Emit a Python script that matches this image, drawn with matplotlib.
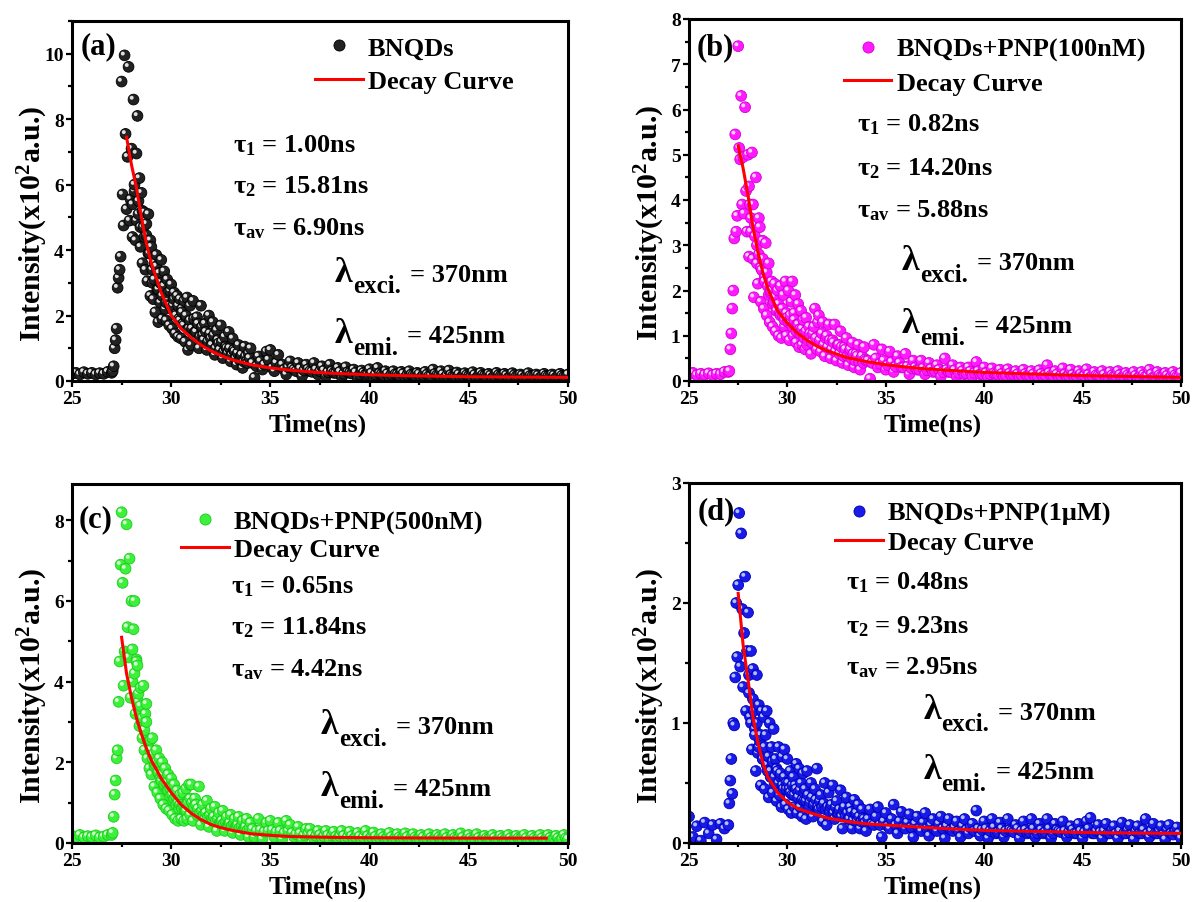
import numpy as np
import matplotlib
matplotlib.use('Agg')
import matplotlib.pyplot as plt
from matplotlib.lines import Line2D
from matplotlib.ticker import MultipleLocator

plt.rcParams['font.family'] = ['Liberation Serif', 'DejaVu Serif']
plt.rcParams['font.weight'] = 'bold'
plt.rcParams['axes.labelweight'] = 'bold'
plt.rcParams['mathtext.fontset'] = 'custom'
plt.rcParams['mathtext.rm'] = 'Liberation Serif:bold'
plt.rcParams['mathtext.bf'] = 'Liberation Serif:bold'
plt.rcParams['mathtext.it'] = 'Liberation Serif:bold:italic'
plt.rcParams['mathtext.default'] = 'rm'

# TCSPC channels (ns): coarse before the pulse, fine over the rise/peak, coarse in the tail
time_ns = np.concatenate([25.0 + 0.2 * np.arange(10),
                          27.0 + 0.05 * np.arange(80),
                          31.0 + 0.1 * np.arange(30),
                          34.0 + 0.2 * np.arange(81)])
# second pass of channels lying between the ones above (decay + tail)
fill_ns = np.concatenate([28.05 + 0.1 * np.arange(60),
                          34.1 + 0.2 * np.arange(80)])

# ---- (a) BNQDs, intensity in x10^2 a.u.
int_a_head = [0.22, 0.25, 0.2, 0.27, 0.22, 0.25, 0.2, 0.24, 0.22, 0.28]
int_a_peak = [0.25, 0.3, 0.45, 1.0, 1.25, 1.6, 2.85, 3.15, 3.4, 3.8,
              9.15, 5.7, 4.75, 9.95, 7.55, 5.25, 6.85, 9.6, 4.9, 5.55,
              7.1, 4.4, 8.6, 5.8, 4.3, 6.95, 8.1, 5.1, 6.2, 4.1,
              5.75, 3.6, 4.7, 5.15, 3.4, 4.45, 3.05, 5.1, 3.9, 2.6,
              4.1, 3.0, 2.5, 3.6, 2.1, 3.85, 2.8, 1.8, 3.3, 2.4,
              3.7, 1.9, 2.9, 3.35, 2.2, 1.85, 3.1, 2.5, 1.7, 2.75,
              2.95, 1.6, 2.3, 2.7, 1.45, 2.05, 2.6, 1.35, 1.9, 2.5,
              1.3, 2.2, 1.75, 2.45, 1.2, 1.95, 2.55, 0.95, 1.6, 2.3]
int_a_mid = [1.1, 2.45, 1.5, 1.95, 1.0, 2.3, 1.4, 1.75, 0.95, 2.0,
             1.3, 1.8, 0.8, 1.55, 1.15, 1.7, 0.7, 1.35, 1.0, 1.5,
             0.6, 1.3, 0.9, 0.5, 1.1, 0.75, 0.4, 1.05, 0.6, 0.85]
int_a_tail = [1.0, 0.1, 0.75, 0.35, 0.9, 0.95, 0.3, 0.8, 0.5, 0.2,
              0.6, 0.35, 0.55, 0.15, 0.5, 0.3, 0.55, 0.2, 0.45, 0.15,
              0.5, 0.25, 0.4, 0.12, 0.42, 0.25, 0.35, 0.1, 0.32, 0.2,
              0.36, 0.12, 0.4, 0.2, 0.3, 0.12, 0.3, 0.2, 0.28, 0.1,
              0.3, 0.18, 0.25, 0.1, 0.28, 0.15, 0.35, 0.18, 0.3, 0.1,
              0.32, 0.15, 0.26, 0.1, 0.24, 0.15, 0.27, 0.1, 0.25, 0.16,
              0.22, 0.1, 0.25, 0.15, 0.22, 0.1, 0.24, 0.14, 0.2, 0.1,
              0.24, 0.14, 0.2, 0.1, 0.22, 0.14, 0.2, 0.1, 0.22, 0.13,
              0.2]
fill_a = [5.4, 6.0, 4.9, 5.5, 4.7, 5.2, 4.4, 4.8, 3.9, 4.3,
          3.4, 3.1, 3.5, 2.8, 3.0, 2.6, 2.9, 2.4, 2.7, 2.3,
          2.2, 2.5, 2.0, 2.3, 1.85, 2.1, 1.7, 2.0, 1.6, 1.85,
          1.6, 1.9, 1.5, 1.75, 1.35, 1.65, 1.25, 1.5, 1.2, 1.45,
          1.1, 1.4, 1.0, 1.25, 0.95, 1.2, 0.9, 1.05, 0.85, 1.0,
          0.8, 0.95, 0.7, 0.85, 0.65, 0.8, 0.6, 0.75, 0.55, 0.7,
          0.55, 0.45, 0.6, 0.5, 0.65, 0.4, 0.55, 0.45, 0.35, 0.42,
          0.4, 0.3, 0.38, 0.32, 0.36, 0.28, 0.35, 0.3, 0.32, 0.27,
          0.3, 0.25, 0.28, 0.22, 0.27, 0.23, 0.26, 0.2, 0.25, 0.22,
          0.24, 0.2, 0.23, 0.18, 0.22, 0.2, 0.21, 0.17, 0.22, 0.19,
          0.2, 0.17, 0.21, 0.18, 0.2, 0.16, 0.22, 0.18, 0.2, 0.17,
          0.19, 0.16, 0.2, 0.17, 0.18, 0.15, 0.19, 0.17, 0.18, 0.15,
          0.17, 0.15, 0.18, 0.16, 0.17, 0.14, 0.18, 0.16, 0.17, 0.15,
          0.16, 0.14, 0.17, 0.15, 0.16, 0.14, 0.17, 0.15, 0.16, 0.14]
fit_t_a = [27.75, 28.0, 28.25, 28.5, 28.75, 29.0, 29.5, 30.0, 30.5, 31.0, 31.5, 32.0,
           32.5, 33.0, 34.0, 35.0, 36.0, 37.0, 38.0, 40.0, 42.0, 45.0, 50.0]
fit_a = [7.45, 6.6, 5.9, 5.0, 4.2, 3.6, 2.7, 2.0, 1.6, 1.33, 1.1, 0.92,
         0.78, 0.66, 0.5, 0.4, 0.33, 0.28, 0.24, 0.19, 0.16, 0.13, 0.11]

# ---- (b) BNQDs + PNP 100 nM
int_b_head = [0.15, 0.18, 0.13, 0.16, 0.14, 0.17, 0.13, 0.16, 0.15, 0.2]
int_b_peak = [0.2, 0.22, 0.7, 1.05, 1.6, 2.0, 3.15, 5.45, 3.3, 3.65,
              7.4, 5.15, 4.9, 6.3, 3.9, 4.95, 3.7, 6.05, 4.2, 3.3,
              5.0, 2.75, 3.9, 3.3, 5.05, 2.7, 1.85, 3.45, 4.5, 2.6,
              2.15, 3.6, 3.4, 1.75, 2.45, 3.1, 1.6, 2.3, 3.05, 1.45,
              2.1, 2.6, 1.3, 1.95, 2.2, 1.2, 1.75, 2.15, 1.1, 1.6,
              2.0, 1.0, 1.5, 2.1, 0.95, 1.45, 1.9, 1.2, 2.2, 1.0,
              1.4, 2.0, 0.9, 1.3, 1.75, 2.2, 1.0, 1.5, 1.9, 0.85,
              1.25, 1.7, 0.75, 1.15, 1.55, 0.8, 1.35, 1.05, 0.7, 1.4]
int_b_mid = [0.8, 1.2, 0.6, 1.05, 1.6, 0.7, 1.45, 0.65, 1.3, 0.55,
             1.0, 1.25, 0.5, 0.9, 1.25, 0.45, 0.8, 1.1, 0.4, 0.75,
             0.95, 0.35, 0.7, 0.85, 0.3, 0.6, 0.8, 0.25, 0.55, 0.75]
int_b_tail = [0.45, 0.05, 0.8, 0.3, 0.7, 0.25, 0.65, 0.2, 0.55, 0.3,
              0.6, 0.15, 0.45, 0.25, 0.45, 0.15, 0.4, 0.2, 0.35, 0.1,
              0.5, 0.2, 0.35, 0.1, 0.3, 0.15, 0.3, 0.1, 0.42, 0.15,
              0.3, 0.08, 0.28, 0.15, 0.25, 0.1, 0.26, 0.12, 0.22, 0.08,
              0.25, 0.12, 0.22, 0.08, 0.24, 0.1, 0.35, 0.12, 0.22, 0.08,
              0.28, 0.1, 0.25, 0.08, 0.22, 0.1, 0.26, 0.08, 0.2, 0.12,
              0.22, 0.06, 0.2, 0.1, 0.22, 0.08, 0.18, 0.1, 0.2, 0.06,
              0.2, 0.1, 0.25, 0.08, 0.2, 0.1, 0.18, 0.06, 0.2, 0.1,
              0.18]
fill_b = [4.3, 3.6, 3.9, 3.2, 3.0, 2.8, 2.5, 2.7, 2.2, 2.4,
          1.9, 2.0, 1.7, 1.85, 1.55, 1.7, 1.45, 1.6, 1.35, 1.5,
          1.3, 1.45, 1.2, 1.35, 1.1, 1.25, 1.05, 1.15, 0.95, 1.1,
          0.9, 1.05, 0.85, 1.2, 0.95, 1.3, 0.9, 1.05, 0.8, 0.95,
          0.75, 0.9, 0.7, 0.85, 0.65, 0.8, 0.6, 0.75, 0.55, 0.7,
          0.55, 0.65, 0.5, 0.6, 0.45, 0.55, 0.42, 0.5, 0.4, 0.48,
          0.45, 0.4, 0.5, 0.38, 0.45, 0.35, 0.42, 0.32, 0.4, 0.3,
          0.32, 0.28, 0.3, 0.25, 0.28, 0.24, 0.27, 0.22, 0.25, 0.2,
          0.25, 0.2, 0.24, 0.18, 0.22, 0.17, 0.21, 0.18, 0.22, 0.16,
          0.18, 0.15, 0.17, 0.14, 0.16, 0.13, 0.17, 0.14, 0.15, 0.13,
          0.16, 0.13, 0.15, 0.12, 0.16, 0.13, 0.18, 0.12, 0.15, 0.12,
          0.15, 0.12, 0.14, 0.11, 0.15, 0.12, 0.14, 0.11, 0.13, 0.11,
          0.14, 0.1, 0.13, 0.11, 0.14, 0.1, 0.13, 0.11, 0.12, 0.1,
          0.14, 0.11, 0.15, 0.1, 0.13, 0.11, 0.12, 0.1, 0.13, 0.1]
fit_t_b = [27.5, 27.75, 28.0, 28.25, 28.5, 28.75, 29.0, 29.5, 30.0, 30.5, 31.0, 31.5,
           32.0, 33.0, 34.0, 35.0, 36.0, 37.0, 38.0, 40.0, 42.0, 45.0, 50.0]
fit_b = [5.2, 4.7, 4.1, 3.4, 2.85, 2.4, 2.05, 1.55, 1.28, 1.06, 0.9, 0.77,
         0.67, 0.52, 0.43, 0.36, 0.31, 0.27, 0.24, 0.19, 0.16, 0.12, 0.08]

# ---- (c) BNQDs + PNP 500 nM
int_c_head = [0.18, 0.15, 0.2, 0.14, 0.17, 0.15, 0.19, 0.14, 0.16, 0.2]
int_c_peak = [0.2, 0.25, 0.65, 1.2, 1.55, 2.1, 2.3, 3.5, 4.5, 6.9,
              8.2, 6.45, 3.9, 4.75, 6.8, 7.9, 5.35, 4.6, 7.05, 3.6,
              6.0, 4.0, 5.3, 6.0, 3.2, 4.55, 4.4, 3.5, 2.9, 3.85,
              3.0, 2.6, 3.9, 2.3, 3.2, 3.45, 2.1, 2.5, 1.85, 2.55,
              1.7, 2.6, 2.2, 1.4, 1.95, 2.3, 1.25, 1.75, 2.1, 1.1,
              1.55, 2.0, 0.95, 1.4, 1.85, 0.85, 1.3, 1.7, 0.8, 1.15,
              1.6, 0.7, 1.05, 1.45, 0.6, 0.95, 1.3, 0.55, 0.85, 1.2,
              0.6, 0.9, 1.25, 0.55, 0.8, 1.35, 0.6, 1.05, 1.45, 0.7]
int_c_mid = [1.45, 0.55, 1.1, 0.7, 1.4, 0.45, 0.95, 0.6, 1.05, 0.4,
             0.85, 0.55, 0.9, 0.3, 0.75, 0.5, 0.8, 0.3, 0.65, 0.45,
             0.7, 0.25, 0.6, 0.4, 0.65, 0.2, 0.55, 0.35, 0.6, 0.15]
int_c_tail = [0.5, 0.15, 0.6, 0.1, 0.5, 0.55, 0.15, 0.5, 0.1, 0.55,
              0.45, 0.15, 0.4, 0.08, 0.35, 0.35, 0.1, 0.3, 0.12, 0.3,
              0.08, 0.28, 0.12, 0.3, 0.08, 0.28, 0.1, 0.25, 0.08, 0.3,
              0.1, 0.26, 0.08, 0.22, 0.1, 0.25, 0.08, 0.22, 0.1, 0.24,
              0.06, 0.22, 0.1, 0.2, 0.06, 0.22, 0.08, 0.2, 0.1, 0.22,
              0.06, 0.2, 0.1, 0.24, 0.06, 0.2, 0.08, 0.22, 0.06, 0.18,
              0.1, 0.2, 0.06, 0.18, 0.08, 0.2, 0.06, 0.18, 0.1, 0.2,
              0.05, 0.18, 0.08, 0.2, 0.06, 0.2, 0.08, 0.18, 0.06, 0.2,
              0.1]
fill_c = [4.8, 4.2, 4.5, 3.7, 3.4, 3.1, 2.8, 3.0, 2.5, 2.3,
          2.1, 1.9, 2.0, 1.75, 1.6, 1.7, 1.45, 1.5, 1.3, 1.35,
          1.2, 1.1, 1.15, 1.0, 0.95, 0.85, 0.9, 0.8, 1.0, 1.1,
          1.0, 0.9, 0.95, 0.85, 0.75, 0.8, 0.7, 0.75, 0.65, 0.7,
          0.6, 0.65, 0.55, 0.6, 0.5, 0.55, 0.48, 0.52, 0.45, 0.5,
          0.42, 0.48, 0.4, 0.45, 0.38, 0.42, 0.35, 0.4, 0.32, 0.38,
          0.35, 0.3, 0.32, 0.28, 0.3, 0.32, 0.28, 0.3, 0.25, 0.3,
          0.25, 0.22, 0.24, 0.2, 0.22, 0.2, 0.18, 0.2, 0.17, 0.19,
          0.18, 0.16, 0.17, 0.18, 0.15, 0.17, 0.15, 0.16, 0.14, 0.17,
          0.15, 0.16, 0.14, 0.15, 0.13, 0.15, 0.13, 0.14, 0.13, 0.15,
          0.13, 0.14, 0.12, 0.14, 0.12, 0.13, 0.12, 0.14, 0.11, 0.13,
          0.12, 0.13, 0.11, 0.14, 0.11, 0.12, 0.11, 0.13, 0.1, 0.12,
          0.12, 0.13, 0.1, 0.12, 0.11, 0.12, 0.1, 0.12, 0.11, 0.12,
          0.1, 0.12, 0.11, 0.12, 0.1, 0.13, 0.11, 0.12, 0.1, 0.12]
fit_t_c = [27.5, 27.75, 28.0, 28.25, 28.5, 28.75, 29.0, 29.5, 30.0, 30.5, 31.0,
           31.5, 32.0, 32.5, 33.0, 34.0, 35.0, 36.0, 38.0, 40.0, 45.0, 48.9]
fit_c = [5.1, 4.2, 3.6, 3.1, 2.7, 2.35, 2.05, 1.6, 1.25, 0.95, 0.74,
         0.58, 0.46, 0.38, 0.32, 0.23, 0.19, 0.16, 0.14, 0.13, 0.12, 0.12]

# ---- (d) BNQDs + PNP 1 uM
int_d_head = [0.22, 0.05, 0.14, 0.02, 0.17, 0.08, 0.15, 0.03, 0.16, 0.12]
int_d_peak = [0.15, 0.33, 0.52, 0.7, 0.41, 1.0, 0.98, 1.38, 2.0, 1.55,
              2.15, 2.75, 1.47, 2.58, 1.95, 1.3, 1.75, 2.22, 1.1, 1.6,
              1.92, 1.4, 1.05, 1.6, 0.78, 1.45, 1.1, 0.95, 0.6, 1.4,
              0.75, 1.15, 0.85, 0.48, 1.1, 0.7, 1.05, 0.45, 0.9, 1.1,
              0.6, 0.38, 1.0, 0.55, 0.8, 0.42, 0.95, 0.5, 0.7, 0.35,
              0.6, 0.8, 0.4, 0.55, 0.3, 0.72, 0.45, 0.78, 0.32, 0.5,
              0.7, 0.28, 0.45, 0.6, 0.25, 0.4, 0.55, 0.3, 0.48, 0.66,
              0.25, 0.42, 0.62, 0.3, 0.5, 0.22, 0.58, 0.35, 0.45, 0.2]
int_d_mid = [0.6, 0.3, 0.5, 0.22, 0.45, 0.62, 0.28, 0.4, 0.18, 0.5,
             0.15, 0.42, 0.3, 0.48, 0.2, 0.35, 0.25, 0.44, 0.12, 0.3,
             0.38, 0.2, 0.3, 0.12, 0.36, 0.25, 0.32, 0.12, 0.28, 0.2]
int_d_tail = [0.1, 0.28, 0.15, 0.3, 0.05, 0.25, 0.12, 0.32, 0.08, 0.26,
              0.12, 0.24, 0.05, 0.22, 0.1, 0.25, 0.06, 0.2, 0.1, 0.22,
              0.04, 0.2, 0.1, 0.18, 0.05, 0.2, 0.08, 0.16, 0.27, 0.06,
              0.18, 0.04, 0.2, 0.08, 0.17, 0.05, 0.2, 0.1, 0.15, 0.04,
              0.18, 0.08, 0.2, 0.05, 0.16, 0.08, 0.2, 0.04, 0.16, 0.1,
              0.18, 0.05, 0.14, 0.08, 0.16, 0.04, 0.18, 0.21, 0.08, 0.15,
              0.04, 0.16, 0.08, 0.14, 0.04, 0.17, 0.08, 0.15, 0.03, 0.14,
              0.08, 0.2, 0.05, 0.16, 0.08, 0.14, 0.03, 0.15, 0.07, 0.13,
              0.04]
fill_d = [1.25, 1.0, 1.2, 0.9, 1.0, 0.8, 0.9, 0.7, 0.8, 0.65,
          0.72, 0.6, 0.68, 0.55, 0.62, 0.5, 0.58, 0.48, 0.55, 0.45,
          0.5, 0.42, 0.48, 0.4, 0.45, 0.38, 0.44, 0.36, 0.42, 0.35,
          0.4, 0.34, 0.38, 0.32, 0.36, 0.3, 0.35, 0.3, 0.33, 0.28,
          0.3, 0.26, 0.32, 0.25, 0.3, 0.24, 0.28, 0.22, 0.27, 0.22,
          0.25, 0.2, 0.26, 0.19, 0.24, 0.18, 0.22, 0.18, 0.21, 0.17,
          0.2, 0.16, 0.22, 0.15, 0.18, 0.14, 0.2, 0.15, 0.18, 0.13,
          0.17, 0.13, 0.16, 0.12, 0.17, 0.12, 0.15, 0.11, 0.16, 0.12,
          0.14, 0.11, 0.13, 0.1, 0.14, 0.11, 0.13, 0.1, 0.12, 0.11,
          0.12, 0.1, 0.13, 0.09, 0.12, 0.1, 0.11, 0.09, 0.12, 0.1,
          0.11, 0.09, 0.12, 0.08, 0.11, 0.09, 0.12, 0.08, 0.11, 0.09,
          0.1, 0.09, 0.11, 0.08, 0.1, 0.09, 0.12, 0.08, 0.1, 0.09,
          0.1, 0.08, 0.11, 0.08, 0.1, 0.08, 0.11, 0.07, 0.1, 0.08,
          0.11, 0.08, 0.1, 0.08, 0.1, 0.07, 0.11, 0.08, 0.1, 0.08]
fit_t_d = [27.5, 27.75, 28.0, 28.25, 28.5, 28.75, 29.0, 29.5, 30.0, 30.5, 31.0,
           32.0, 33.0, 34.0, 35.0, 36.0, 38.0, 40.0, 43.0, 46.0, 50.0]
fit_d = [2.08, 1.65, 1.36, 1.05, 0.84, 0.67, 0.55, 0.42, 0.34, 0.29, 0.26,
         0.21, 0.18, 0.16, 0.15, 0.14, 0.12, 0.105, 0.095, 0.085, 0.08]

series_names = ['BNQDs', 'BNQDs+PNP(100nM)', 'BNQDs+PNP(500nM)', 'BNQDs+PNP(1μM)']
tau1 = ['1.00', '0.82', '0.65', '0.48']
tau2 = ['15.81', '14.20', '11.84', '9.23']
tau_av = ['6.90', '5.88', '4.42', '2.95']

W, H = 1195, 903
fig = plt.figure(figsize=(W / 100, H / 100), dpi=100)


def px_rect(left, top, right, bottom):
    return [left / W, 1 - bottom / H, (right - left) / W, (bottom - top) / H]


panels = [
    dict(rect=px_rect(72, 22, 568, 382), y=int_a_head + int_a_peak + int_a_mid + int_a_tail,
         fill=fill_a, ft=fit_t_a, fy=fit_a, color='#222222', edge='#000000', shine='#e0e0e0',
         ymax=11, ystep=2, tag='(a)', tag_xy=(0.018, 0.931),
         leg_xy=(0.49, 0.879), leg_sp=0.39, tau_x=0.325, tau_y=(0.639, 0.525, 0.408),
         lam_x=0.53, lam_y=(0.278, 0.108)),
    dict(rect=px_rect(689, 20, 1181, 382), y=int_b_head + int_b_peak + int_b_mid + int_b_tail,
         fill=fill_b, ft=fit_t_b, fy=fit_b, color='#ff1aff', edge='#d400d4', shine='#ffd0ff',
         ymax=8, ystep=1, tag='(b)', tag_xy=(0.016, 0.923),
         leg_xy=(0.315, 0.870), leg_sp=0.37, tau_x=0.341, tau_y=(0.691, 0.572, 0.456),
         lam_x=0.433, lam_y=(0.309, 0.135)),
    dict(rect=px_rect(72, 485, 568, 844), y=int_c_head + int_c_peak + int_c_mid + int_c_tail,
         fill=fill_c, ft=fit_t_c, fy=fit_c, color='#3cf03c', edge='#1ccc1c', shine='#d4ffd0',
         ymax=8.9, ystep=2, tag='(c)', tag_xy=(0.014, 0.903),
         leg_xy=(0.22, 0.857), leg_sp=0.14, tau_x=0.32, tau_y=(0.697, 0.583, 0.467),
         lam_x=0.502, lam_y=(0.306, 0.133)),
    dict(rect=px_rect(689, 484, 1181, 844), y=int_d_head + int_d_peak + int_d_mid + int_d_tail,
         fill=fill_d, ft=fit_t_d, fy=fit_d, color='#1a1ae8', edge='#0000b4', shine='#b0c0ff',
         ymax=3, ystep=1, tag='(d)', tag_xy=(0.018, 0.922),
         leg_xy=(0.297, 0.875), leg_sp=0.21, tau_x=0.319, tau_y=(0.706, 0.584, 0.471),
         lam_x=0.476, lam_y=(0.346, 0.18)),
]


def lambda_label(ax, x, y, sub, value):
    lam = ax.text(x, y, 'λ', transform=ax.transAxes, fontsize=26, va='baseline')
    s = ax.annotate(sub, xy=(1, 0), xycoords=lam, xytext=(0.5, -2.5),
                    textcoords='offset points', fontsize=18, va='baseline')
    ax.annotate('= ' + value, xy=(1, 0), xycoords=(s, lam), xytext=(6.5, 5.6),
                textcoords='offset points', fontsize=19, va='baseline')


for i, p in enumerate(panels):
    ax = fig.add_axes(p['rect'])
    t_all = np.concatenate([time_ns, fill_ns])
    y_all = np.array(p['y'] + p['fill'])
    order = np.argsort(t_all, kind='stable')
    t_all, y_all = t_all[order], y_all[order]

    # spheres: each disc is followed by its own light spot (up-left), so that
    # later discs cover earlier highlights like overlapping balls
    ax_w = p['rect'][2] * W
    ax_h = p['rect'][3] * H
    dx = -1.8 * 25.0 / ax_w
    dy = 1.8 * p['ymax'] / ax_h
    n = len(t_all)
    xs = np.column_stack([t_all, t_all + dx]).ravel()
    ys = np.column_stack([y_all, y_all + dy]).ravel()
    sizes = np.tile([60, 8], n)
    faces = [p['color'], p['shine']] * n
    edges = [p['edge'], 'none'] * n
    widths = np.tile([0.6, 0.0], n)
    ax.scatter(xs, ys, s=sizes, c=faces, edgecolors=edges, linewidths=widths, zorder=2)
    ax.plot(p['ft'], p['fy'], color='#ff0000', lw=2.2, zorder=4)

    ax.set_xlim(25, 50)
    ax.set_ylim(0, p['ymax'])
    ax.xaxis.set_major_locator(MultipleLocator(5))
    ax.xaxis.set_minor_locator(MultipleLocator(2.5))
    ax.yaxis.set_major_locator(MultipleLocator(p['ystep']))
    ax.yaxis.set_minor_locator(MultipleLocator(p['ystep'] / 2))
    ax.tick_params(which='both', direction='out', width=1.6, labelsize=14)
    ax.tick_params(which='major', length=4.5)
    ax.tick_params(which='minor', length=3)
    ax.tick_params(axis='x', pad=2)
    ax.tick_params(axis='y', pad=1.5)
    for lab in ax.get_xticklabels() + ax.get_yticklabels():
        lab.set_fontweight('bold')
    for sp in ax.spines.values():
        sp.set_linewidth(2.2)

    # x label sits just under the tick labels
    ax.set_xlabel('Time(ns)', fontsize=18.5, fontweight='bold')
    ax.xaxis.set_label_coords(0.495, -32.0 / ax_h)
    ax.set_ylabel('Intensity(x10$^{2}$a.u.)', fontsize=21.5, fontweight='bold')
    ax.yaxis.set_label_coords(-0.045, 0.44)

    ax.text(p['tag_xy'][0], p['tag_xy'][1], p['tag'], transform=ax.transAxes,
            fontsize=22, va='center', ha='left')

    dot = Line2D([], [], ls='none', marker='o', ms=8, mfc=p['color'], mec=p['edge'], mew=0.6)
    fit_line = Line2D([], [], color='#ff0000', lw=2.2)
    ax.legend([dot, fit_line], [series_names[i], 'Decay Curve'], loc='center left',
              bbox_to_anchor=p['leg_xy'], frameon=False, fontsize=19, handlelength=1.8,
              handletextpad=0.2, labelspacing=p['leg_sp'], borderpad=0, borderaxespad=0)

    tx = p['tau_x']
    ax.text(tx, p['tau_y'][0], 'τ$_1$ = ' + tau1[i] + 'ns', transform=ax.transAxes,
            fontsize=19, va='baseline')
    ax.text(tx, p['tau_y'][1], 'τ$_2$ = ' + tau2[i] + 'ns', transform=ax.transAxes,
            fontsize=19, va='baseline')
    ax.text(tx, p['tau_y'][2], 'τ$_{av}$ = ' + tau_av[i] + 'ns', transform=ax.transAxes,
            fontsize=19, va='baseline')

    lambda_label(ax, p['lam_x'], p['lam_y'][0], 'exci.', '370nm')
    lambda_label(ax, p['lam_x'], p['lam_y'][1], 'emi.', '425nm')

fig.savefig('out.png', dpi=100)
